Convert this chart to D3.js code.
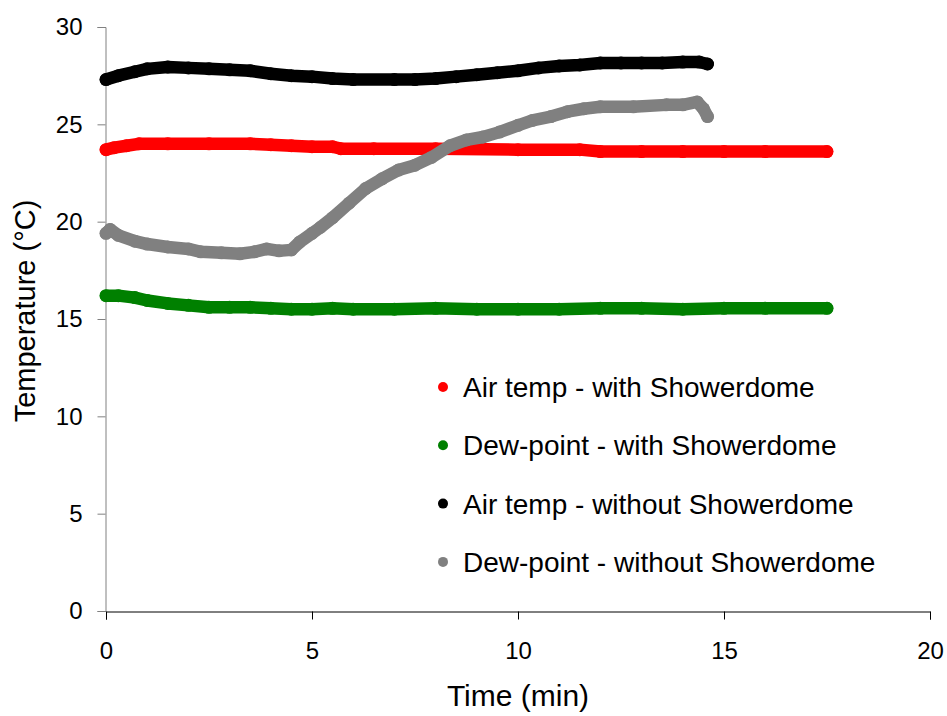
<!DOCTYPE html>
<html>
<head>
<meta charset="utf-8">
<script src="https://cdn.jsdelivr.net/npm/d3@7"></script>
<style>
  body { margin: 0; background: #fff; }
  text { font-family: "Liberation Sans", Arial, sans-serif; fill: #000; }
</style>
</head>
<body>
<svg id="chart" width="947" height="716"></svg>
<script>
const WIDTH = 947, HEIGHT = 716;
const MARGIN = {left: 106, top: 27, right: 17, bottom: 105};

// values (time in min, temperature in C)
var air_with_t = [0, 0.2, 0.5, 0.8, 1.5, 2.5, 3.5, 4.0, 4.5, 5.0, 5.5, 5.7, 6.5, 8.0, 10.0, 11.5, 12.0, 13.0, 14.0, 15.0, 16.0, 17.5];
var air_with_v = [23.7, 23.8, 23.9, 24.0, 24.0, 24.0, 24.0, 23.95, 23.9, 23.85, 23.85, 23.75, 23.75, 23.75, 23.7, 23.7, 23.6, 23.6, 23.6, 23.6, 23.6, 23.6];

var dew_with_t = [0, 0.3, 0.7, 1.0, 1.5, 2.0, 2.5, 3.0, 3.5, 4.0, 4.5, 5.0, 5.5, 6.0, 7.0, 8.0, 9.0, 10.0, 11.0, 12.0, 13.0, 14.0, 15.0, 16.0, 17.5];
var dew_with_v = [16.2, 16.2, 16.1, 15.95, 15.8, 15.7, 15.6, 15.6, 15.6, 15.55, 15.5, 15.5, 15.55, 15.5, 15.5, 15.55, 15.5, 15.5, 15.5, 15.55, 15.55, 15.5, 15.55, 15.55, 15.55];

var air_without_t = [0, 0.3, 0.7, 1.0, 1.5, 2.0, 2.5, 3.0, 3.5, 4.0, 4.5, 5.0, 5.5, 6.0, 7.0, 7.5, 8.0, 8.5, 9.0, 9.5, 10.0, 10.5, 11.0, 11.5, 12.0, 12.5, 13.0, 13.5, 14.0, 14.4, 14.6];
var air_without_v = [27.3, 27.5, 27.7, 27.85, 27.95, 27.9, 27.85, 27.8, 27.75, 27.6, 27.5, 27.45, 27.35, 27.3, 27.3, 27.3, 27.35, 27.45, 27.55, 27.65, 27.75, 27.9, 28.0, 28.05, 28.15, 28.15, 28.15, 28.15, 28.2, 28.2, 28.1];

var dew_without_t = [0, 0.1, 0.3, 0.7, 1.0, 1.5, 2.0, 2.3, 2.8, 3.25, 3.6, 3.9, 4.2, 4.5, 4.7, 5.0, 5.2, 5.5, 5.9, 6.3, 6.7, 7.1, 7.5, 7.9, 8.35, 8.75, 9.15, 9.55, 10.0, 10.35, 10.8, 11.2, 11.6, 12.0, 12.8, 13.6, 14.0, 14.35, 14.5, 14.6];
var dew_without_v = [19.4, 19.6, 19.3, 19.0, 18.85, 18.7, 18.6, 18.45, 18.4, 18.35, 18.45, 18.6, 18.5, 18.55, 18.95, 19.4, 19.7, 20.2, 20.95, 21.7, 22.2, 22.65, 22.9, 23.3, 23.9, 24.2, 24.35, 24.6, 24.95, 25.2, 25.4, 25.65, 25.8, 25.9, 25.9, 26.0, 26.0, 26.15, 25.8, 25.4];

var series_names = ["Air temp - with Showerdome", "Dew-point - with Showerdome",
                    "Air temp - without Showerdome", "Dew-point - without Showerdome"];
var series_colors = ["#ff0000", "#008000", "#000000", "#808080"];
var x_ticks = [0, 5, 10, 15, 20];
var y_ticks = [0, 5, 10, 15, 20, 25, 30];

var series = [
    [air_with_t, air_with_v],
    [dew_with_t, dew_with_v],
    [air_without_t, air_without_v],
    [dew_without_t, dew_without_v]
];

var svg = d3.select("#chart");
var x = d3.scaleLinear().domain([0, 20]).range([MARGIN.left, WIDTH - MARGIN.right]);
var y = d3.scaleLinear().domain([0, 30]).range([HEIGHT - MARGIN.bottom, MARGIN.top]);

// y axis
var y_axis = d3.axisLeft(y).tickValues(y_ticks).tickSize(8).tickPadding(15);
var gy = svg.append("g")
    .attr("transform", "translate(" + (MARGIN.left - 0.5) + ",0)")
    .call(y_axis);
gy.select(".domain").attr("stroke", "#808080").attr("stroke-width", 1);
gy.selectAll(".tick line").attr("stroke", "#808080");
gy.selectAll(".tick text").attr("font-size", 24).attr("font-family", "Liberation Sans, Arial, sans-serif");

// x axis
var x_axis = d3.axisBottom(x).tickValues(x_ticks).tickSize(8).tickPadding(22);
var gx = svg.append("g")
    .attr("transform", "translate(0," + (HEIGHT - MARGIN.bottom + 0.5) + ")")
    .call(x_axis);
gx.select(".domain").attr("stroke", "#000").attr("stroke-width", 1);
gx.selectAll(".tick line").attr("stroke", "#000");
gx.selectAll(".tick text").attr("font-size", 24).attr("font-family", "Liberation Sans, Arial, sans-serif");

// titles
svg.append("text")
    .attr("x", 518)
    .attr("y", 706)
    .attr("text-anchor", "middle")
    .attr("font-size", 30)
    .text("Time (min)");
svg.append("text")
    .attr("transform", "translate(35,311) rotate(-90)")
    .attr("text-anchor", "middle")
    .attr("font-size", 29)
    .text("Temperature (°C)");

// series: thick line through the samples plus a dot at each one
var line = d3.line().x(d => x(d[0])).y(d => y(d[1]));
series.forEach(function(s, idx) {
    var pts = s[0].map((t, i) => [t, s[1][i]]);
    var g = svg.append("g");
    g.append("path")
        .attr("d", line(pts))
        .attr("fill", "none")
        .attr("stroke", series_colors[idx])
        .attr("stroke-width", 12.5)
        .attr("stroke-linejoin", "round")
        .attr("stroke-linecap", "round");
    g.selectAll("circle").data(pts).enter().append("circle")
        .attr("cx", d => x(d[0]))
        .attr("cy", d => y(d[1]))
        .attr("r", 6.5)
        .attr("fill", series_colors[idx]);
});

// legend
var legend = svg.append("g").attr("transform", "translate(443,387)");
series_names.forEach(function(name, idx) {
    var row = legend.append("g").attr("transform", "translate(0," + idx * 58.3 + ")");
    row.append("circle").attr("r", 5).attr("fill", series_colors[idx]);
    row.append("text")
        .attr("x", 20)
        .attr("y", 10)
        .attr("font-size", 28)
        .text(name);
});
</script>
</body>
</html>
